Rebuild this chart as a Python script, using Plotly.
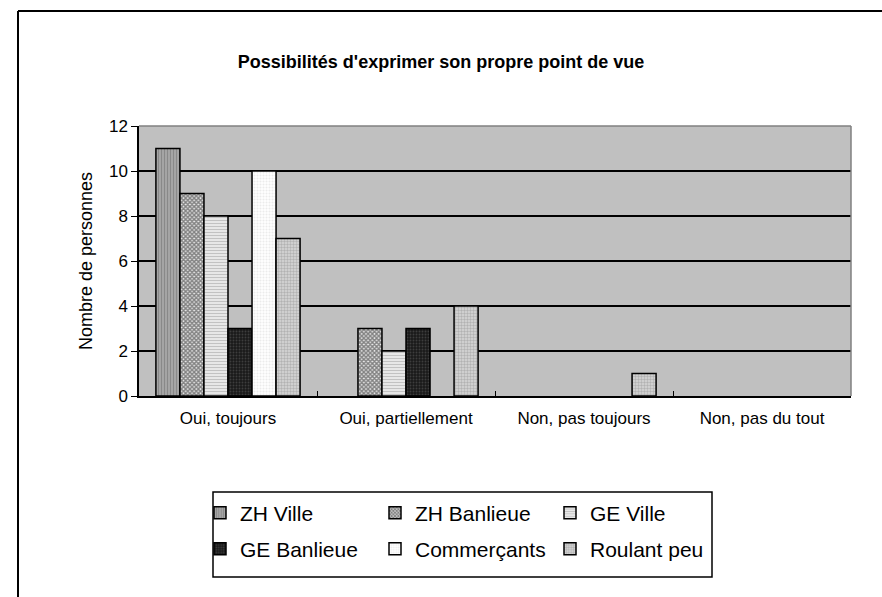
import plotly.graph_objects as go

categories = ["Oui, toujours", "Oui, partiellement", "Non, pas toujours", "Non, pas du tout"]
series_names = ["ZH Ville", "ZH Banlieue", "GE Ville", "GE Banlieue", "Commerçants", "Roulant peu"]
zh_ville = [11, 0, 0, 0]
zh_banlieue = [9, 3, 0, 0]
ge_ville = [8, 2, 0, 0]
ge_banlieue = [3, 3, 0, 0]
commercants = [10, 0, 0, 0]
roulant_peu = [7, 4, 1, 0]
y_ticks = [0, 2, 4, 6, 8, 10, 12]

values = [zh_ville, zh_banlieue, ge_ville, ge_banlieue, commercants, roulant_peu]
patterns = [
    dict(shape="|", bgcolor="#a8a8a8", fgcolor="#6a6a6a", size=3, solidity=0.4),
    dict(shape="x", bgcolor="#e8e8e8", fgcolor="#1a1a1a", size=3, solidity=0.7),
    dict(shape="-", bgcolor="#f4f4f4", fgcolor="#909090", size=3, solidity=0.5),
    dict(shape=".", bgcolor="#1a1a1a", fgcolor="#606060", size=3, solidity=0.3),
    dict(shape=".", bgcolor="#ffffff", fgcolor="#d8d8d8", size=3, solidity=0.4),
    dict(shape=".", bgcolor="#d8d8d8", fgcolor="#8c8c8c", size=3, solidity=0.5),
]
legend_ids = ["legend", "legend", "legend", "legend2", "legend2", "legend2"]

FONT = "Liberation Sans, Arial, sans-serif"
W, H = 882, 597
L, R, T, B = 139, 31, 126, 201
PW, PH = W - L - R, H - T - B

def px_x(p):
    return (p - L) / PW

def px_y(p):
    return (H - B - p) / PH

fig = go.Figure()
for name, vals, pat, lg in zip(series_names, values, patterns, legend_ids):
    fig.add_trace(go.Bar(
        x=categories, y=[v if v else None for v in vals], name=name, legend=lg,
        marker=dict(color=pat["bgcolor"], pattern=pat, line=dict(color="black", width=1.5)),
    ))

legend_common = dict(
    orientation="h", xanchor="left", yanchor="middle",
    font=dict(family=FONT, size=21, color="black"),
    bgcolor="rgba(0,0,0,0)", borderwidth=0,
    entrywidth=130, itemwidth=30, tracegroupgap=0,
)

fig.update_layout(
    width=W, height=H,
    margin=dict(l=L, r=R, t=T, b=B),
    paper_bgcolor="white", plot_bgcolor="#c0c0c0",
    barmode="group", bargap=0.19, bargroupgap=0,
    font=dict(family=FONT, size=17, color="black"),
    title=dict(text="<b>Possibilités d'exprimer son propre point de vue</b>",
               x=0.5, xanchor="center", xref="container",
               y=1 - 62 / H, yanchor="middle", yref="container",
               font=dict(family=FONT, size=18, color="black")),
    legend=dict(x=px_x(200), y=px_y(513), **legend_common),
    legend2=dict(x=px_x(200), y=px_y(549), **legend_common),
    xaxis=dict(showline=True, linecolor="black", linewidth=1.5,
               ticks="inside", ticklen=5, tickcolor="black", tickson="boundaries",
               tickfont=dict(size=17, family=FONT), showgrid=False, ticklabelstandoff=6),
    yaxis=dict(range=[0, 12], tickvals=y_ticks, showline=True, linecolor="black", linewidth=1.5,
               ticks="outside", ticklen=6, tickcolor="black",
               showgrid=True, gridcolor="black", gridwidth=1.5,
               tickfont=dict(size=17, family=FONT), zeroline=False,
               title=dict(text="Nombre de personnes", font=dict(size=18, family=FONT), standoff=12)),
    shapes=[
        dict(type="line", xref="paper", yref="paper", x0=0, x1=1, y0=1, y1=1,
             line=dict(color="#808080", width=1.5)),
        dict(type="line", xref="paper", yref="paper", x0=1, x1=1, y0=0, y1=1,
             line=dict(color="#808080", width=1.5)),
        dict(type="rect", xref="paper", yref="paper",
             x0=px_x(213), x1=px_x(712), y0=px_y(577), y1=px_y(492),
             line=dict(color="black", width=1.5), fillcolor="rgba(0,0,0,0)"),
        dict(type="line", xref="paper", yref="paper",
             x0=px_x(18), x1=px_x(18), y0=px_y(11), y1=px_y(620),
             line=dict(color="black", width=2)),
        dict(type="line", xref="paper", yref="paper",
             x0=px_x(18), x1=px_x(900), y0=px_y(11), y1=px_y(11),
             line=dict(color="black", width=2)),
    ],
)

fig.write_html("out.html", config={"displayModeBar": False},
               post_script="document.body.style.margin='0px';")
